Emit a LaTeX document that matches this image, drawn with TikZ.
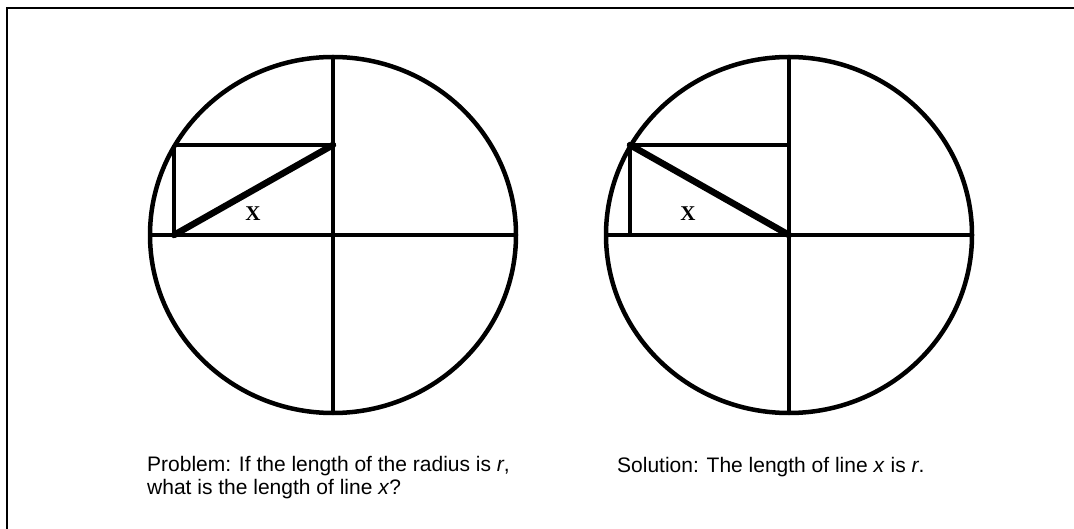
\documentclass[tikz,border=0pt]{standalone}
\usepackage{fontspec}
\setmainfont{Liberation Serif}
\setsansfont{Liberation Sans}
\usetikzlibrary{calc}
\tikzset{
  rim/.style={draw=black, line width=4.5pt},
  axis/.style={draw=black, line width=4.5pt},
  side/.style={draw=black, line width=3.5pt},
  hyp/.style={draw=black, line width=6.5pt, line cap=round},
  frame/.style={draw=black, line width=2.5pt},
  xlab/.style={font=\fontsize{21}{21}\selectfont\bfseries, inner sep=0pt},
  caption/.style={font=\sffamily\fontsize{21}{22.5}\selectfont, anchor=base west, align=left, inner sep=0pt},
}

\begin{document}
\begin{tikzpicture}[x=1pt,y=-1pt]
\useasboundingbox (0,0) rectangle (1074,529);
% frame, open at right and bottom
\draw[frame] (7,529) |- (1074,8);
\def\rx{183}
\def\ry{178}
% two circles, each cut in quarters with a box in the upper left
\foreach \c/\n in {333/A,789/B}{
  \coordinate (O\n) at (\c,235);
  \draw[rim] (O\n) ellipse [x radius=\rx, y radius=\ry];
  \draw[axis] ($(O\n)+(-\rx,0)$) -- ($(O\n)+(\rx,0)$);
  \draw[axis] ($(O\n)+(0,-\ry)$) -- ($(O\n)+(0,\ry)$);
  \coordinate (P\n) at ($(O\n)+(-159,-90)$); % on the rim
  \coordinate (Q\n) at ($(O\n)+(0,-90)$);
  \coordinate (F\n) at ($(O\n)+(-159,0)$);
  \draw[side] (P\n) -- (Q\n);
  \draw[side] (P\n) -- (F\n);
}
% problem: x runs from the foot to the axis
\draw[hyp] (FA) -- (QA);
% solution: x is a radius
\draw[hyp] (PB) -- (OB);
\node[xlab] (xA) at (253,214) {X};
\node[xlab] (xB) at (688,214) {X};
% captions (base = last line)
\node[caption] (prob) at (147,494) {Problem: If the length of the radius is \textit{r},\\what is the length of line \textit{x}?};
\node[caption] (sol) at (617,472) {Solution: The length of line \textit{x} is \textit{r}.};
\end{tikzpicture}
\end{document}
